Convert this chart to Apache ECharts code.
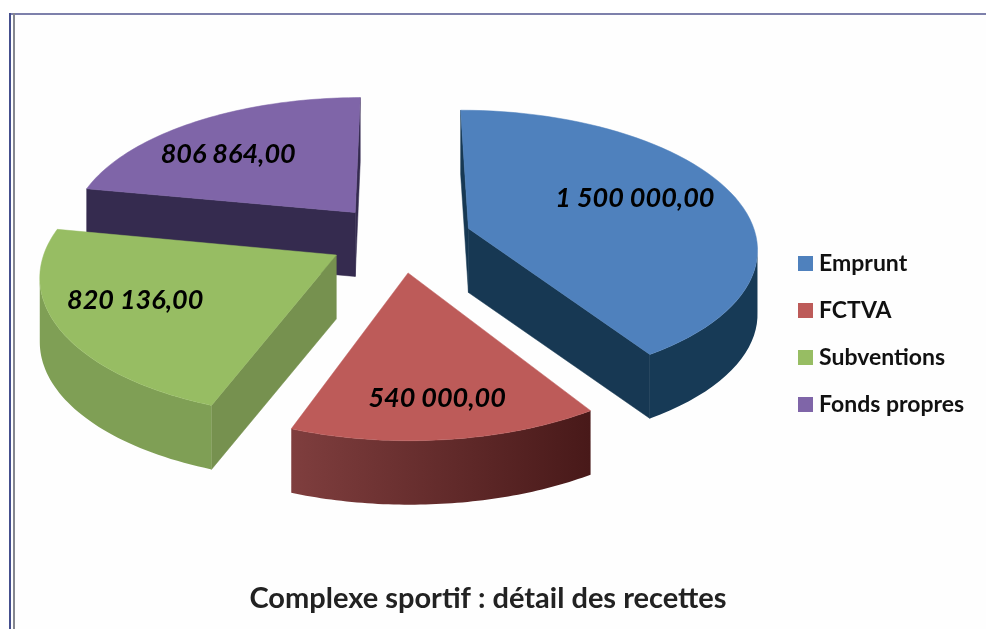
<!DOCTYPE html>
<html>
<head>
<meta charset="utf-8">
<title>Complexe sportif</title>
<script src="https://cdn.jsdelivr.net/npm/echarts@6/dist/echarts.min.js"></script>
<style>
  html, body { margin: 0; padding: 0; background: #fff; }
  #chart { width: 986px; height: 629px; }
</style>
</head>
<body>
<div id="chart"></div>
<script>
const categories = ['Emprunt', 'FCTVA', 'Subventions', 'Fonds propres']
const values = [1500000, 540000, 820136, 806864]
const valueLabels = ['1 500 000,00', '540 000,00', '820 136,00', '806 864,00']

const topColors = ['#4f81bd', '#bd5b59', '#97bd63', '#7f65a8']
const wallColors = ['#173853', '#7a3a39', '#76914f', '#352b4f']
const arcColors = [
  ['#173a56', '#173a56'],
  ['#7f3e3e', '#481919'],
  ['#7f9f55', '#7f9f55'],
  ['#352b4f', '#352b4f']
]
// where the value sits inside its slice: along the radius and across the angle
const labelRadius = [0.65, 0.78, 0.72, 0.68]
const labelAngle = [0.47, 0.5, 0.55, 0.42]
// purple first, red last, so that the front slices cover the back ones
const slicesZ = [3, 5, 4, 2]

// flattened circle with a little perspective, the front looks bigger
const cx = 400
const cy = 238
const rx = 288
const ry = 136
const persp = 0.13
const explode = 0.25
const depth = 64

const total = values.reduce((a, b) => a + b, 0)
const toRad = (v) => (v / total) * Math.PI * 2

const project = (x, y) => {
  const w = 1 - persp * y
  return [cx + (rx * x) / w, cy + (ry * y) / w]
}

const down = (p) => [p[0], p[1] + depth]

const renderSlice = (idx) => () => {
  let start = 0
  for (let i = 0; i < idx; i++) start += toRad(values[i])
  const end = start + toRad(values[idx])
  const mid = (start + end) / 2
  const ox = explode * Math.sin(mid)
  const oy = -explode * Math.cos(mid)

  const apex = project(ox, oy)
  const arc = []
  const steps = 60
  for (let i = 0; i <= steps; i++) {
    const t = start + ((end - start) * i) / steps
    arc.push(project(ox + Math.sin(t), oy - Math.cos(t)))
  }
  const outline = [apex, ...arc]

  const children = []
  const wall = (a, b) => {
    if (b[0] - a[0] >= 0) return
    children.push({
      type: 'polygon',
      shape: { points: [a, b, down(b), down(a)] },
      style: { fill: wallColors[idx], stroke: wallColors[idx], lineWidth: 0.5 }
    })
  }
  wall(apex, arc[0])
  wall(arc[steps], apex)

  // outer rim, only the part that faces the viewer
  const rim = []
  for (let i = 0; i < steps; i++) {
    if (arc[i + 1][0] - arc[i][0] < 0) {
      if (!rim.length) rim.push(arc[i])
      rim.push(arc[i + 1])
    }
  }
  if (rim.length) {
    const xs = rim.map((p) => p[0])
    children.push({
      type: 'polygon',
      shape: { points: [...rim, ...rim.slice().reverse().map(down)] },
      style: {
        fill: new echarts.graphic.LinearGradient(
          Math.min(...xs), 0, Math.max(...xs), 0,
          [
            { offset: 0, color: arcColors[idx][0] },
            { offset: 1, color: arcColors[idx][1] }
          ],
          true
        )
      }
    })
  }

  children.push({
    type: 'polygon',
    shape: { points: outline },
    style: { fill: topColors[idx], stroke: topColors[idx], lineWidth: 0.5 }
  })

  const r = labelRadius[idx]
  const la = start + (end - start) * labelAngle[idx]
  const pos = project(ox + r * Math.sin(la), oy - r * Math.cos(la))
  children.push({
    type: 'text',
    style: {
      text: valueLabels[idx],
      x: pos[0],
      y: pos[1],
      align: 'center',
      verticalAlign: 'middle',
      fill: '#000',
      font: 'italic bold 27px Lato'
    }
  })

  return { type: 'group', children }
}

const chart = echarts.init(document.getElementById('chart'))

chart.setOption({
  animation: false,
  backgroundColor: '#fefefe',
  title: {
    text: 'Complexe sportif : détail des recettes',
    left: 483,
    top: 579,
    textAlign: 'center',
    textStyle: {
      fontFamily: 'Lato',
      fontWeight: 'bold',
      fontSize: 29,
      color: '#222'
    }
  },
  legend: {
    orient: 'vertical',
    left: 793,
    top: 247,
    itemWidth: 15,
    itemHeight: 15,
    itemGap: 24,
    icon: 'rect',
    data: categories,
    textStyle: {
      fontFamily: 'Lato',
      fontWeight: 'bold',
      fontSize: 23,
      color: '#111',
      padding: [0, 0, 0, 1]
    }
  },
  graphic: [
    { type: 'rect', shape: { x: 0, y: 0, width: 986, height: 13 }, style: { fill: '#fff' } },
    { type: 'rect', shape: { x: 0, y: 0, width: 10, height: 629 }, style: { fill: '#fff' } },
    { type: 'line', shape: { x1: 9, y1: 14, x2: 986, y2: 14 }, style: { stroke: '#7d80ab', lineWidth: 2 } },
    { type: 'line', shape: { x1: 10, y1: 13, x2: 10, y2: 629 }, style: { stroke: '#454f8e', lineWidth: 2 } },
    { type: 'line', shape: { x1: 14, y1: 13, x2: 14, y2: 629 }, style: { stroke: '#85878f', lineWidth: 2 } }
  ],
  series: categories.map((name, idx) => ({
    type: 'custom',
    name,
    coordinateSystem: 'none',
    z: slicesZ[idx],
    itemStyle: { color: topColors[idx] },
    data: [values[idx]],
    renderItem: renderSlice(idx)
  }))
})
</script>
</body>
</html>
